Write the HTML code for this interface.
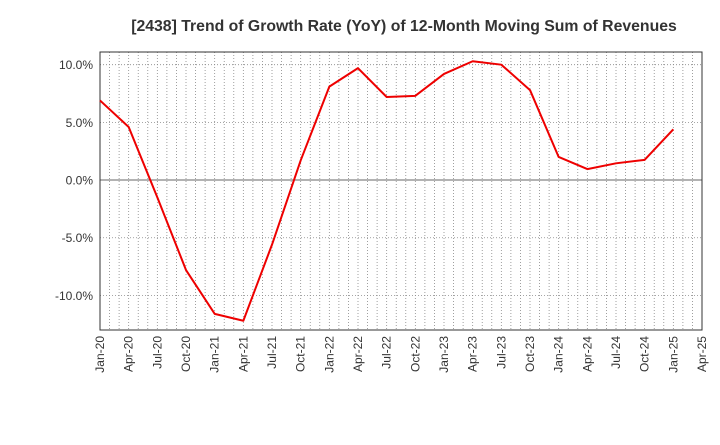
<!DOCTYPE html>
<html><head><meta charset="utf-8"><style>
body{margin:0;background:#fff;}
svg text{font-family:"Liberation Sans",sans-serif;}
</style></head><body>
<svg id="chart" width="720" height="440" xmlns="http://www.w3.org/2000/svg">
<text x="404" y="31" text-anchor="middle" font-size="15.8" font-weight="bold" fill="#333">[2438]  Trend of Growth Rate (YoY) of 12-Month Moving Sum of Revenues</text>
<g id="grid"></g>
<g id="axes"></g>
<g id="series"></g>
</svg>
<script>
const categories=["Jan-20","Apr-20","Jul-20","Oct-20","Jan-21","Apr-21","Jul-21","Oct-21","Jan-22","Apr-22","Jul-22","Oct-22","Jan-23","Apr-23","Jul-23","Oct-23","Jan-24","Apr-24","Jul-24","Oct-24","Jan-25","Apr-25"];
const values=[6.9,4.6,-1.5,-7.8,-11.6,-12.2,-5.6,1.7,8.1,9.7,7.2,7.3,9.2,10.3,10.0,7.8,2.0,0.95,1.45,1.75,4.4];
const yTicks=[10,5,0,-5,-10];
const yTickLabels=["10.0%","5.0%","0.0%","-5.0%","-10.0%"];
const L=100,R=702,T=52,B=330;
const yMin=-13.0,yMax=11.1;
const x=i=>L+(R-L)*i/(categories.length-1);
const y=v=>B-(B-T)*(v-yMin)/(yMax-yMin);
const NS="http://www.w3.org/2000/svg";
function mk(tag,parent,attrs){const e=document.createElementNS(NS,tag);for(const k in attrs)e.setAttribute(k,attrs[k]);document.getElementById(parent).appendChild(e);return e;}
for(let m=1;m<(categories.length-1)*3;m++){
  const xx=L+(R-L)*m/((categories.length-1)*3);
  const g=mk('line','grid',{x1:xx,x2:xx,y1:T,y2:B,stroke:'#888','stroke-width':0.8,'stroke-dasharray':'1,2'});
  
  
}
yTicks.forEach((v,i)=>{
  const yy=y(v);
  const g=mk('line','grid',{x1:L,x2:R,y1:yy,y2:yy,stroke:v===0?'#666':'#888','stroke-width':v===0?1:0.8,'stroke-dasharray':v===0?'':'1,2'});
  
  
  const t=mk('text','axes',{x:L-7,y:yy+4.5,'text-anchor':'end','font-size':12,fill:'#333'});
  t.textContent=yTickLabels[i];
  
  
});
const frame=mk('rect','axes',{x:L,y:T,width:R-L,height:B-T,fill:'none',stroke:'#333','stroke-width':1});


categories.forEach((c,i)=>{
  const xx=x(i);
  const t=mk('text','axes',{x:xx+4,y:B+6,'text-anchor':'end','font-size':12,fill:'#333',transform:`rotate(-90 ${xx+4} ${B+6})`});
  t.textContent=c;
  
  
});
const pts=values.map((v,i)=>x(i)+','+y(v)).join(' ');
const line=mk('polyline','series',{points:pts,fill:'none',stroke:'#ee0000','stroke-width':2,'stroke-linejoin':'round'});


</script>
</body></html>
